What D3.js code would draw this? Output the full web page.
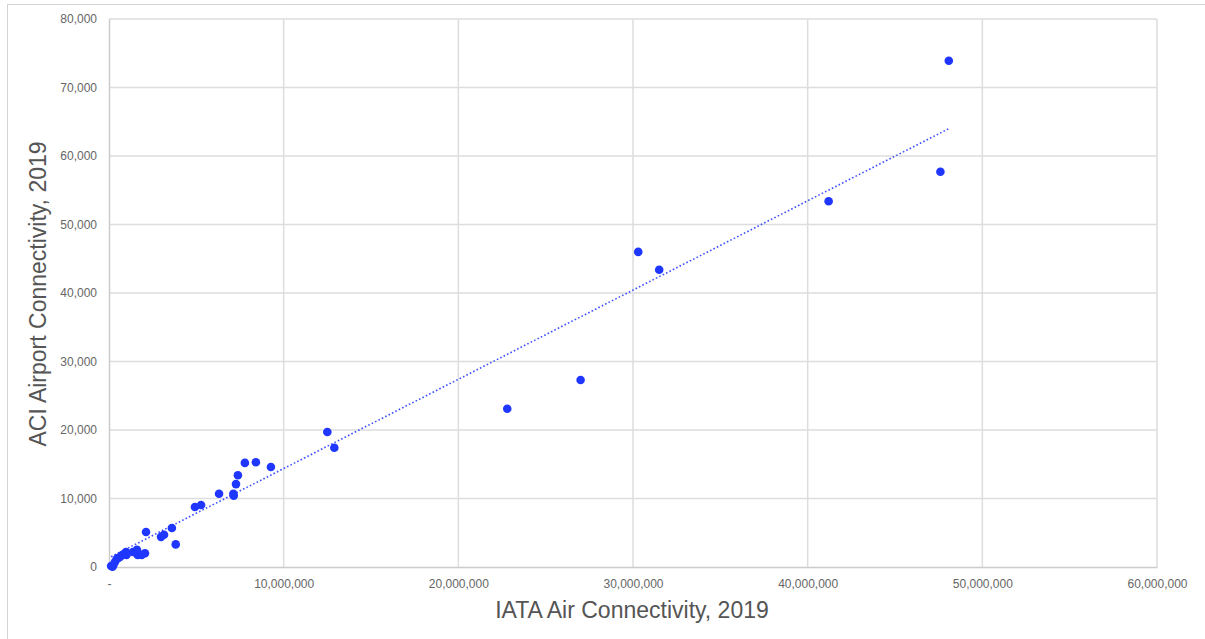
<!DOCTYPE html>
<html><head><meta charset="utf-8">
<script src="https://cdn.jsdelivr.net/npm/d3@7/dist/d3.min.js"></script>
<style>body{margin:0;background:#fff;} svg{display:block;}</style>
</head><body>
<svg id="c" width="1205" height="639"></svg>
<script>
// IATA Air Connectivity (x) vs ACI Airport Connectivity (y), 2019
const iata = [48.08e6, 47.6e6, 41.2e6, 30.3e6, 31.5e6, 27.0e6, 22.8e6, 12.5e6, 12.9e6, 9.27e6,
  8.41e6, 7.78e6, 7.38e6, 7.27e6, 7.12e6, 7.14e6, 6.3e6, 5.27e6, 4.92e6,
  2.12e6, 3.6e6, 3.15e6, 2.98e6, 3.82e6, 2.06e6, 1.64e6, 1.6e6, 1.37e6, 0.97e6, 1.0e6,
  1.87e6, 0.75e6, 0.63e6, 0.5e6, 0.44e6, 0.34e6, 0.25e6, 0.2e6, 0.12e6];
const aci = [73900, 57700, 53400, 46000, 43400, 27300, 23100, 19700, 17400, 14600,
  15300, 15200, 13400, 12100, 10700, 10400, 10700, 9050, 8760,
  5100, 5700, 4700, 4400, 3300, 2000, 1750, 2500, 2200, 2200, 1750,
  1750, 1750, 1460, 1300, 1170, 730, 300, 50, 150];
const trendSlope = 1.303e-3, trendIntercept = 1340;
const trendRange = [0.12e6, 48.08e6];
const xTicks = [0, 10e6, 20e6, 30e6, 40e6, 50e6, 60e6];
const yTicks = [0, 10000, 20000, 30000, 40000, 50000, 60000, 70000, 80000];
const xTitle = "IATA Air Connectivity, 2019";
const yTitle = "ACI Airport Connectivity, 2019";

const svg = d3.select("#c");
const L = 109, R = 1157, T = 19, B = 567;
const x = d3.scaleLinear().domain([0, 60e6]).range([L, R]);
const y = d3.scaleLinear().domain([0, 80000]).range([B, T]);
const fmt = d3.format(",");
const FONT = "Liberation Sans, Arial, sans-serif";

// outer frame
svg.append("rect").attr("x", 7.5).attr("y", 4.5).attr("width", 1210).attr("height", 650)
  .attr("fill", "none").attr("stroke", "#d4d4d4").attr("stroke-width", 1);

// gridlines
svg.append("g").selectAll("line").data(xTicks.slice(1)).join("line")
  .attr("x1", d => x(d)).attr("x2", d => x(d)).attr("y1", T).attr("y2", B)
  .attr("stroke", "#dddddd").attr("stroke-width", 1.5);
svg.append("g").selectAll("line").data(yTicks.slice(1)).join("line")
  .attr("y1", d => y(d)).attr("y2", d => y(d)).attr("x1", L).attr("x2", R)
  .attr("stroke", "#dddddd").attr("stroke-width", 1.5);

// axes
const xAxis = d3.axisBottom(x).tickValues(xTicks).tickSize(0).tickPadding(12)
  .tickFormat(d => d === 0 ? "-" : fmt(d));
const gx = svg.append("g").attr("transform", `translate(0,${B})`).call(xAxis);
gx.select(".domain").attr("stroke", "#cccccc").attr("stroke-width", 1.5);
gx.selectAll("text").attr("fill", "#666").style("font-family", FONT).style("font-size", "12px");

const yAxis = d3.axisLeft(y).tickValues(yTicks).tickSize(0).tickPadding(12).tickFormat(fmt);
const gy = svg.append("g").attr("transform", `translate(${L},0)`).call(yAxis);
gy.select(".domain").attr("stroke", "#cccccc").attr("stroke-width", 1.5);
gy.selectAll("text").attr("fill", "#666").style("font-family", FONT).style("font-size", "12px");

// trend line
svg.append("line")
  .attr("x1", x(trendRange[0])).attr("y1", y(trendIntercept + trendSlope * trendRange[0]))
  .attr("x2", x(trendRange[1])).attr("y2", y(trendIntercept + trendSlope * trendRange[1]))
  .attr("stroke", "#3d50ff").attr("stroke-width", 1.6).attr("stroke-dasharray", "1.6,2.2");

// points
svg.append("g").selectAll("circle").data(iata.map((v, i) => [v, aci[i]])).join("circle")
  .attr("cx", d => x(d[0])).attr("cy", d => y(d[1])).attr("r", 4.3)
  .attr("fill", "#1f36ff");

// titles
svg.append("text").attr("x", 632).attr("y", 618).attr("text-anchor", "middle")
  .attr("fill", "#555").style("font-family", FONT).style("font-size", "23px")
  .text(xTitle);
svg.append("text").attr("transform", `translate(46,294) rotate(-90)`).attr("text-anchor", "middle")
  .attr("fill", "#555").style("font-family", FONT).style("font-size", "23px")
  .text(yTitle);
</script>
</body></html>
